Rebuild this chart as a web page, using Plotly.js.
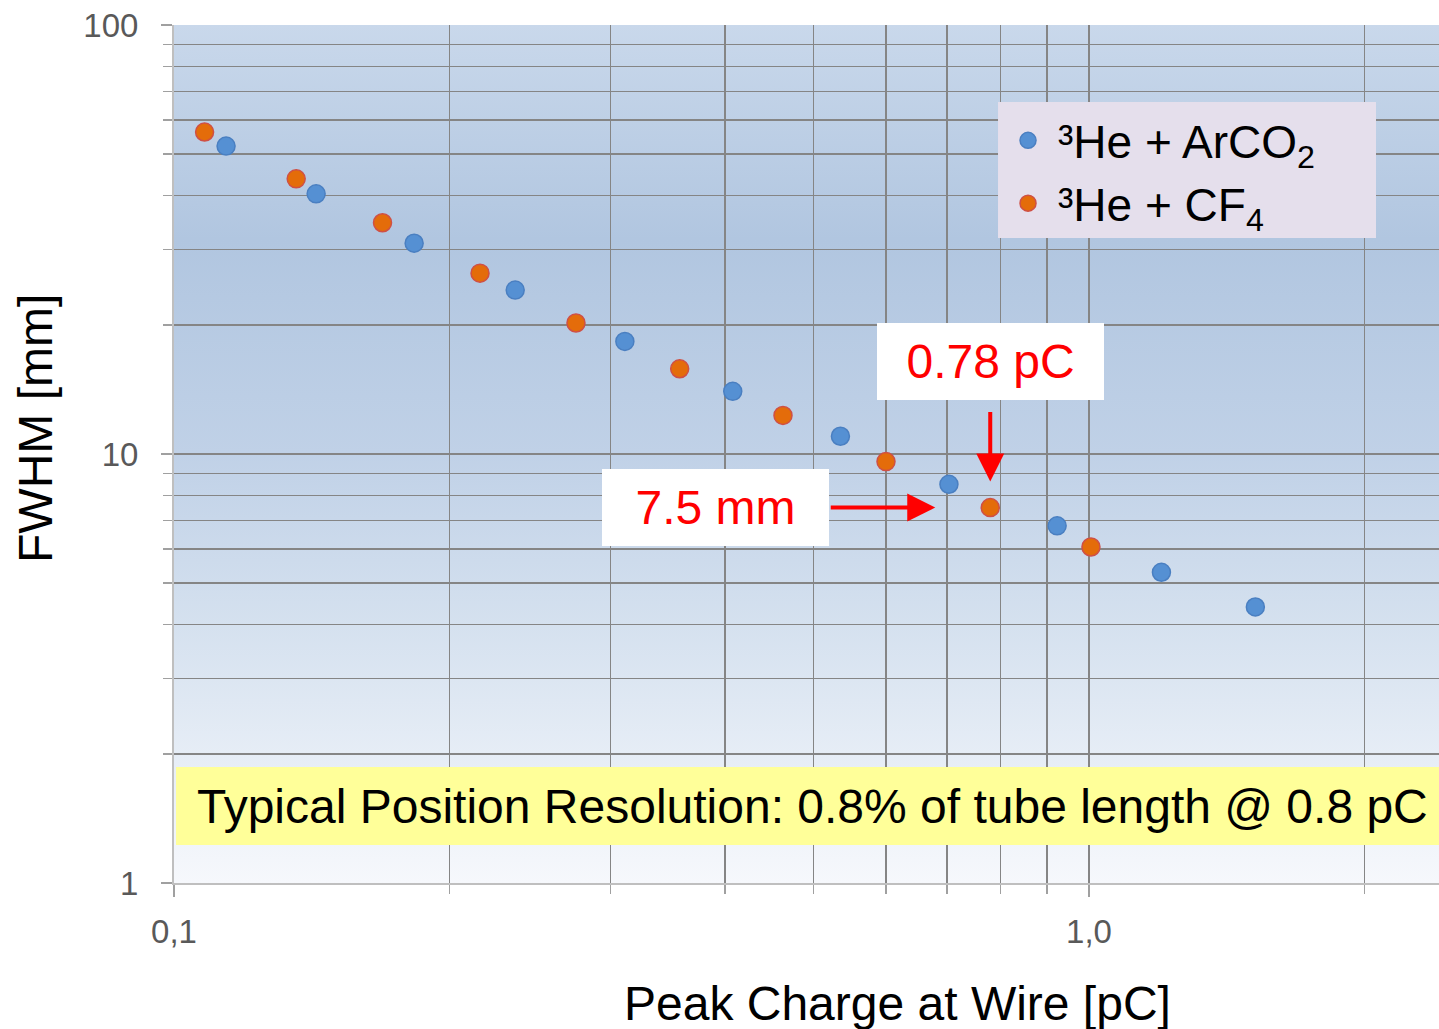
<!DOCTYPE html>
<html>
<head>
<meta charset="utf-8">
<script src="https://cdn.plot.ly/plotly-3.0.1.min.js"></script>
<style>
  html, body { margin: 0; padding: 0; background: #ffffff; }
  #chart { width: 1439px; height: 1029px; }
</style>
</head>
<body>
<div id="chart"></div>
<script>
// Position resolution (FWHM) versus peak charge collected at the wire
const chargeArCO2 = [0.114, 0.143, 0.183, 0.236, 0.311, 0.408, 0.535, 0.703, 0.923, 1.20, 1.52];
const fwhmArCO2   = [52.2, 40.4, 31.0, 24.1, 18.3, 14.0, 11.0, 8.5, 6.8, 5.3, 4.4];

const chargeCF4 = [0.108, 0.136, 0.169, 0.216, 0.275, 0.357, 0.463, 0.600, 0.78, 1.005];
const fwhmCF4   = [56.3, 43.8, 34.6, 26.4, 20.2, 15.8, 12.3, 9.6, 7.5, 6.07];

// Highlighted operating point (CF4 mixture)
const markedCharge = 0.78;
const markedFwhm = 7.5;

// Labelled decade ticks and unlabelled minor gridlines
const xMajorTicks = [0.1, 1];
const xMajorText  = ['0,1', '1,0'];
const xMinorTicks = [0.2, 0.3, 0.4, 0.5, 0.6, 0.7, 0.8, 0.9, 2];
const yMajorTicks = [1, 10, 100];
const yMajorText  = ['1', '10', '100'];
const yMinorTicks = [2, 3, 4, 5, 6, 7, 8, 9, 20, 30, 40, 50, 60, 70, 80, 90];

const FONT = 'Liberation Sans, Arial, sans-serif';

// Vertical gradient used as the plot-area background
const bgSvg =
  '<svg xmlns="http://www.w3.org/2000/svg" width="100" height="100" preserveAspectRatio="none">' +
  '<defs><linearGradient id="g" x1="0" y1="0" x2="0" y2="1">' +
  '<stop offset="0" stop-color="#c9d8eb"/>' +
  '<stop offset="0.25" stop-color="#b1c6e0"/>' +
  '<stop offset="0.5" stop-color="#c0d1e7"/>' +
  '<stop offset="0.7" stop-color="#d5e1ef"/>' +
  '<stop offset="0.85" stop-color="#e6edf6"/>' +
  '<stop offset="1" stop-color="#f6f8fc"/>' +
  '</linearGradient></defs>' +
  '<rect width="100" height="100" fill="url(#g)"/></svg>';
const bgSource = 'data:image/svg+xml;charset=utf-8,' + encodeURIComponent(bgSvg);

const traces = [
  {
    type: 'scatter', mode: 'markers', name: '³He + ArCO<sub>2</sub>',
    x: chargeArCO2, y: fwhmArCO2,
    marker: { size: 18, color: '#5590d3', line: { color: '#4a7fc1', width: 1.5 } }
  },
  {
    type: 'scatter', mode: 'markers', name: '³He + CF<sub>4</sub>',
    x: chargeCF4, y: fwhmCF4,
    marker: { size: 18, color: '#e46c0a', line: { color: '#cf5045', width: 1.5 } }
  }
];

const gridColor = '#858585';
const tickColor = '#a0a0a0';

const layout = {
  width: 1439, height: 1029,
  margin: { l: 174, r: 0, t: 25, b: 146, pad: 0 },
  paper_bgcolor: '#ffffff',
  plot_bgcolor: 'rgba(0,0,0,0)',
  font: { family: FONT, color: '#000000' },
  showlegend: true,
  legend: {
    x: 0.6514, y: 0.9080, xanchor: 'left', yanchor: 'top',
    bgcolor: 'rgba(0,0,0,0)', borderwidth: 0,
    font: { family: FONT, size: 46, color: '#000000' },
    itemwidth: 50, tracegroupgap: 0
  },
  xaxis: {
    type: 'log', range: [-1, Math.log10(2.413)],
    tickmode: 'array', tickvals: xMajorTicks, ticktext: xMajorText,
    ticks: 'outside', ticklen: 12, tickwidth: 1.5, tickcolor: tickColor,
    ticklabelstandoff: 6,
    tickfont: { family: FONT, size: 33, color: '#595959' },
    showgrid: true, gridcolor: gridColor, gridwidth: 1.5,
    minor: {
      tickmode: 'array', tickvals: xMinorTicks,
      ticks: 'outside', ticklen: 9, tickwidth: 1.5, tickcolor: tickColor,
      showgrid: true, gridcolor: gridColor, gridwidth: 1.5
    },
    showline: true, linecolor: '#bfbfbf', linewidth: 2,
    zeroline: false, automargin: false, fixedrange: true
  },
  yaxis: {
    type: 'log', range: [0, 2],
    tickmode: 'array', tickvals: yMajorTicks, ticktext: yMajorText,
    ticks: 'outside', ticklen: 11, tickwidth: 1.5, tickcolor: tickColor,
    ticklabelstandoff: 16,
    tickfont: { family: FONT, size: 33, color: '#595959' },
    showgrid: true, gridcolor: gridColor, gridwidth: 1.5,
    minor: {
      tickmode: 'array', tickvals: yMinorTicks,
      ticks: 'outside', ticklen: 9, tickwidth: 1.5, tickcolor: tickColor,
      showgrid: true, gridcolor: gridColor, gridwidth: 1.5
    },
    showline: true, linecolor: '#bfbfbf', linewidth: 2,
    zeroline: false, automargin: false, fixedrange: true
  },
  images: [{
    source: bgSource, xref: 'paper', yref: 'paper',
    x: 0, y: 1, sizex: 1, sizey: 1, xanchor: 'left', yanchor: 'top',
    sizing: 'stretch', layer: 'below'
  }],
  shapes: [
    // legend panel
    {
      type: 'rect', xref: 'paper', yref: 'paper',
      x0: 0.6514, x1: 0.9502, y0: 0.7517, y1: 0.9103,
      fillcolor: '#e5dfec', line: { width: 0 }, layer: 'above'
    },
    // highlighted summary band
    {
      type: 'rect', xref: 'paper', yref: 'paper',
      x0: 0.0016, x1: 1, y0: 0.0443, y1: 0.1352,
      fillcolor: '#ffff99', line: { width: 0 }, layer: 'above'
    }
  ],
  annotations: [
    {
      xref: 'paper', yref: 'paper', x: 0.0166, y: 0.0897,
      xanchor: 'left', yanchor: 'middle', showarrow: false,
      text: 'Typical Position Resolution: 0.8% of tube length @ 0.8 pC',
      font: { family: FONT, size: 48, color: '#000000' }
    },
    {
      xref: 'paper', yref: 'paper', x: -0.1099, y: 0.5303,
      xanchor: 'center', yanchor: 'middle', textangle: -90, showarrow: false,
      text: 'FWHM [mm]',
      font: { family: FONT, size: 48, color: '#000000' }
    },
    {
      xref: 'paper', yref: 'paper', x: 0.5723, y: -0.1399,
      xanchor: 'center', yanchor: 'middle', showarrow: false,
      text: 'Peak Charge at Wire [pC]',
      font: { family: FONT, size: 48, color: '#000000' }
    },
    {
      xref: 'x', yref: 'y', x: Math.log10(markedCharge), y: Math.log10(markedFwhm),
      text: markedCharge.toFixed(2) + ' pC',
      font: { family: FONT, size: 48, color: '#ff0000' },
      bgcolor: '#ffffff', width: 227, height: 77, borderpad: 0, borderwidth: 0,
      showarrow: true, axref: 'pixel', ayref: 'pixel', ax: 0, ay: -146,
      arrowhead: 2, arrowsize: 1.4, arrowwidth: 4, arrowcolor: '#ff0000',
      standoff: 26, startstandoff: 12
    },
    {
      xref: 'x', yref: 'y', x: Math.log10(markedCharge), y: Math.log10(markedFwhm),
      text: markedFwhm.toFixed(1) + ' mm',
      font: { family: FONT, size: 48, color: '#ff0000' },
      bgcolor: '#ffffff', width: 227, height: 77, borderpad: 0, borderwidth: 0,
      showarrow: true, axref: 'pixel', ayref: 'pixel', ax: -275, ay: 0,
      arrowhead: 2, arrowsize: 1.4, arrowwidth: 4, arrowcolor: '#ff0000',
      standoff: 55, startstandoff: 2
    }
  ]
};

Plotly.newPlot('chart', traces, layout, { displayModeBar: false, staticPlot: true });
</script>
</body>
</html>
